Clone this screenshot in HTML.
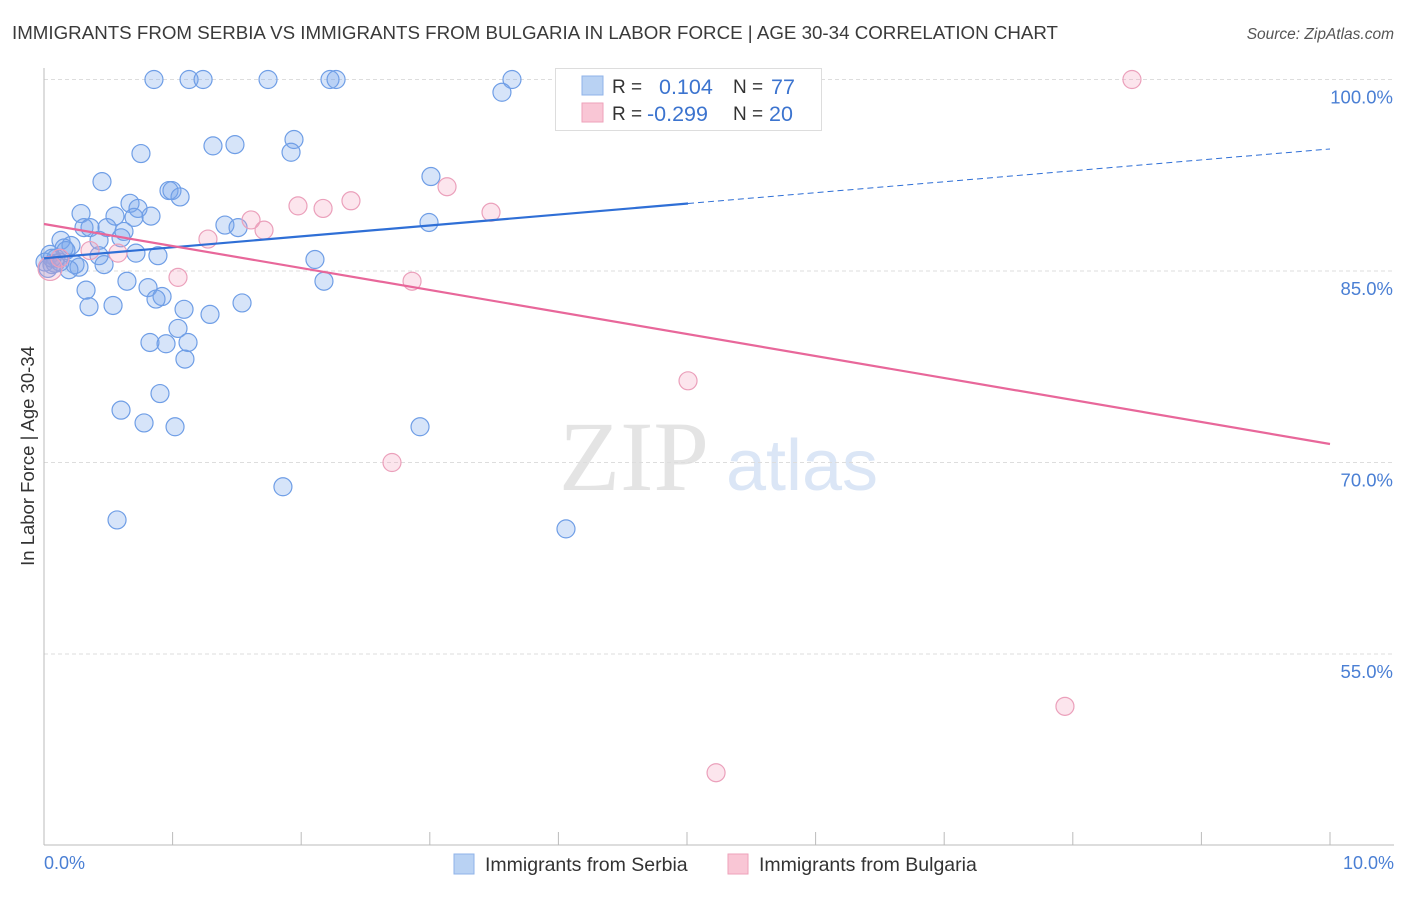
<!DOCTYPE html>
<html><head><meta charset="utf-8"><style>
body{margin:0;background:#fff;}
svg text{font-family:"Liberation Sans",sans-serif;}
svg text.serif{font-family:"Liberation Serif",serif;}
</style></head><body>
<svg id="chart" width="1406" height="892" xmlns="http://www.w3.org/2000/svg">
<text x="12" y="39" font-size="18" textLength="1046" lengthAdjust="spacingAndGlyphs" fill="#3a3a3a">IMMIGRANTS FROM SERBIA VS IMMIGRANTS FROM BULGARIA IN LABOR FORCE | AGE 30-34 CORRELATION CHART</text>
<text x="1394" y="39" font-size="15.5" fill="#555" font-style="italic" text-anchor="end">Source: ZipAtlas.com</text>
<text class="serif" x="634" y="490" font-size="100" fill="#e4e4e4" text-anchor="middle">ZIP</text>
<text x="802" y="490" font-size="72" fill="#dbe6f6" text-anchor="middle">atlas</text>
<g id="grid"></g>
<line x1="44" y1="68" x2="44" y2="845" stroke="#bbb"/>
<line x1="44" y1="845" x2="1394" y2="845" stroke="#bbb"/>
<g id="xticks"></g>
<text x="34" y="456" font-size="18.5" fill="#333" text-anchor="middle" transform="rotate(-90 34 456)">In Labor Force | Age 30-34</text>
<text x="44" y="869" font-size="18" fill="#4a7fd4">0.0%</text>
<text x="1394" y="869" font-size="18" fill="#4a7fd4" text-anchor="end">10.0%</text>
<g id="marks"></g>
<g>
<rect x="555.5" y="68.5" width="266" height="62" fill="#fff" stroke="#ddd"/>
<rect x="582" y="76" width="21" height="19" fill="#b9d2f3" stroke="#8fb3e8"/>
<rect x="582" y="103" width="21" height="19" fill="#f9c6d5" stroke="#eea2ba"/>
<text x="612" y="93" font-size="19" fill="#333">R =</text>
<text x="659" y="94" font-size="21.5" fill="#3c74cf">0.104</text>
<text x="733" y="93" font-size="19" fill="#333">N =</text>
<text x="771" y="94" font-size="21.5" fill="#3c74cf">77</text>
<text x="612" y="120" font-size="19" fill="#333">R =</text>
<text x="647" y="121" font-size="21.5" fill="#3c74cf">-0.299</text>
<text x="733" y="120" font-size="19" fill="#333">N =</text>
<text x="769" y="121" font-size="21.5" fill="#3c74cf">20</text>
</g>
<g>
<rect x="454" y="854" width="20" height="20" fill="#b9d2f3" stroke="#8fb3e8"/>
<text x="485" y="871" font-size="19.5" fill="#333">Immigrants from Serbia</text>
<rect x="728" y="854" width="20" height="20" fill="#f9c6d5" stroke="#eea2ba"/>
<text x="759" y="871" font-size="19.5" fill="#333">Immigrants from Bulgaria</text>
</g>
</svg>
<script>
const yTicks=[100,85,70,55];
const yTickLabels=["100.0%","85.0%","70.0%","55.0%"];
const xTickVals=[1,2,3,4,5,6,7,8,9,10];
const serbiaX=[0.855,1.128,1.237,1.742,2.224,2.271,3.639,3.561,1.944,1.314,1.485,1.921,0.754,3.009,0.451,0.972,0.995,1.058,0.669,0.731,0.288,0.552,0.700,0.832,1.407,1.509,2.994,0.311,0.358,0.490,0.622,0.428,0.599,0.132,0.210,0.156,0.171,0.047,0.093,0.008,0.062,0.715,0.886,0.428,2.107,0.241,0.467,0.272,0.194,0.645,2.177,0.327,0.809,0.918,0.871,1.540,0.350,0.537,1.089,1.291,1.042,0.824,0.949,1.120,1.096,0.902,0.599,0.778,1.019,2.924,1.858,0.568,4.059,0.031,0.086,0.124,0.062];
const serbiaY=[100,100,100,100,100,100,100,99.0,95.3,94.8,94.9,94.3,94.2,92.4,92.0,91.3,91.3,90.8,90.3,89.9,89.5,89.3,89.2,89.3,88.6,88.4,88.8,88.4,88.4,88.4,88.1,87.4,87.6,87.4,87.0,86.8,86.6,86.3,86.0,85.7,85.5,86.4,86.2,86.2,85.9,85.5,85.5,85.3,85.1,84.2,84.2,83.5,83.7,83.0,82.8,82.5,82.2,82.3,82.0,81.6,80.5,79.4,79.3,79.4,78.1,75.4,74.1,73.1,72.8,72.8,68.1,65.5,64.8,85.2,85.6,85.7,86.0];
const bulgariaX=[8.460,5.451,3.134,1.975,2.170,2.387,3.476,1.610,1.711,1.275,0.575,1.042,2.862,5.008,2.706,7.939,5.226,0.047,0.124,0.358];
const bulgariaY=[100,100,91.6,90.1,89.9,90.5,89.6,89.0,88.2,87.5,86.4,84.5,84.2,76.4,70.0,50.9,45.7,85.2,86.0,86.6];
const serbiaTrend=[86.0,94.56];   // value at x=0 and x=10
const bulgariaTrend=[88.68,71.45];
const NS="http://www.w3.org/2000/svg";
const sx=v=>44+v*128.6;
const sy=v=>79.5+(100-v)*191.5/15;
function mk(tag,attrs,parent){const e=document.createElementNS(NS,tag);for(const k in attrs)e.setAttribute(k,attrs[k]);parent.appendChild(e);return e;}
const grid=document.getElementById('grid');
yTicks.forEach((t,i)=>{
  const l=mk('line',{x1:44,x2:1394,y1:sy(t),y2:sy(t),stroke:'#ddd','stroke-dasharray':'4 3'},grid);
  
  
  const tx=mk('text',{x:1393,y:sy(t)+24,'font-size':18.5,fill:'#4a7fd4','text-anchor':'end'},grid);
  tx.textContent=yTickLabels[i];
  
  
});
const xt=document.getElementById('xticks');
xTickVals.forEach(v=>{
  const l=mk('line',{x1:sx(v),x2:sx(v),y1:832,y2:845,stroke:'#bbb'},xt);
  
  
});
const marks=document.getElementById('marks');
serbiaX.forEach((x,i)=>{
  const c=mk('circle',{cx:sx(x),cy:sy(serbiaY[i]),r:9,fill:'rgba(120,165,235,0.3)',stroke:'#6f9ee6','stroke-width':1.2},marks);
  
  
});
bulgariaX.forEach((x,i)=>{
  const r=i==17?12:9;
  const c=mk('circle',{cx:sx(x),cy:sy(bulgariaY[i]),r:r,fill:'rgba(245,160,190,0.28)',stroke:'#eba0bb','stroke-width':1.2},marks);
  
  
});
const bAt=x=>serbiaTrend[0]+(serbiaTrend[1]-serbiaTrend[0])*x/10;
const pAt=x=>bulgariaTrend[0]+(bulgariaTrend[1]-bulgariaTrend[0])*x/10;
let l=mk('line',{x1:sx(0),y1:sy(bAt(0)),x2:sx(5.008),y2:sy(bAt(5.008)),stroke:'#2f6fd6','stroke-width':2.2},marks);


l=mk('line',{x1:sx(5.008),y1:sy(bAt(5.008)),x2:sx(10),y2:sy(bAt(10)),stroke:'#2f6fd6','stroke-width':1,'stroke-dasharray':'6 4'},marks);


l=mk('line',{x1:sx(0),y1:sy(pAt(0)),x2:sx(10),y2:sy(pAt(10)),stroke:'#e8679a','stroke-width':2.2},marks);


</script>
</body></html>
